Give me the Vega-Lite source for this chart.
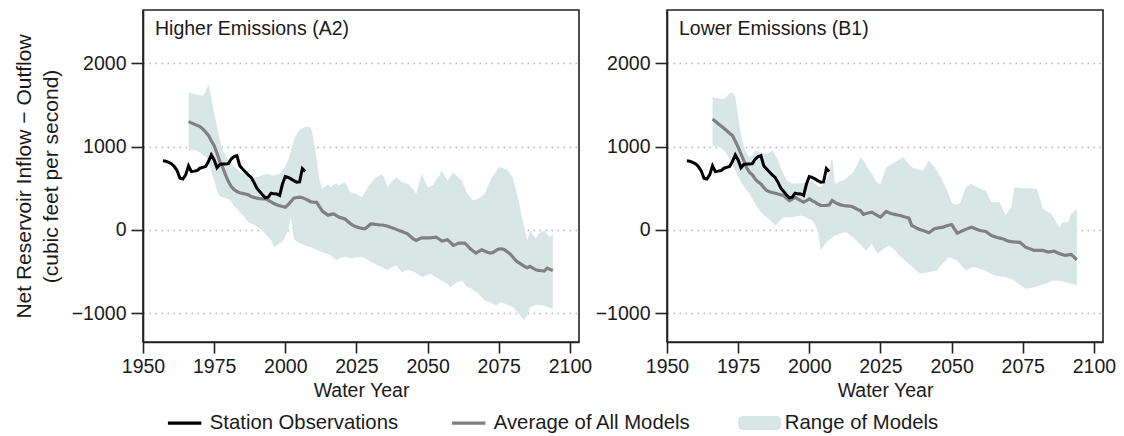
{
"$schema": "https://vega.github.io/schema/vega-lite/v6.json",
"padding": {"left": 12, "top": 9, "right": 0, "bottom": 0},
"datasets": {
"obs": [
{"year":1957,"flow":830},{"year":1958,"flow":825},{"year":1959,"flow":810},{"year":1960,"flow":795},{"year":1961,"flow":760},{"year":1962,"flow":710},{"year":1963,"flow":620},{"year":1964,"flow":610},{"year":1965,"flow":660},{"year":1966,"flow":770},{"year":1967,"flow":700},{"year":1968,"flow":705},{"year":1969,"flow":712},{"year":1970,"flow":740},{"year":1971,"flow":750},{"year":1972,"flow":760},{"year":1973,"flow":820},{"year":1974,"flow":900},{"year":1975,"flow":840},{"year":1976,"flow":745},{"year":1977,"flow":785},{"year":1978,"flow":790},{"year":1979,"flow":790},{"year":1980,"flow":795},{"year":1981,"flow":850},{"year":1982,"flow":880},{"year":1983,"flow":890},{"year":1984,"flow":770},{"year":1985,"flow":730},{"year":1986,"flow":695},{"year":1987,"flow":660},{"year":1988,"flow":630},{"year":1989,"flow":570},{"year":1990,"flow":500},{"year":1991,"flow":460},{"year":1992,"flow":420},{"year":1993,"flow":385},{"year":1994,"flow":392},{"year":1995,"flow":440},{"year":1996,"flow":432},{"year":1997,"flow":430},{"year":1998,"flow":412},{"year":1999,"flow":550},{"year":2000,"flow":640},{"year":2001,"flow":630},{"year":2002,"flow":612},{"year":2003,"flow":590},{"year":2004,"flow":572},{"year":2005,"flow":575},{"year":2006,"flow":735},{"year":2007,"flow":700}
],
"models": [
{"s":"A2","year":1966,"avg":1300,"lo":950,"hi":1652},{"s":"A2","year":1967,"avg":1285,"lo":955,"hi":1640},{"s":"A2","year":1968,"avg":1270,"lo":960,"hi":1632},{"s":"A2","year":1969,"avg":1255,"lo":945,"hi":1625},{"s":"A2","year":1970,"avg":1240,"lo":930,"hi":1615},{"s":"A2","year":1971,"avg":1212,"lo":900,"hi":1612},{"s":"A2","year":1972,"avg":1175,"lo":880,"hi":1650},{"s":"A2","year":1973,"avg":1135,"lo":832,"hi":1752},{"s":"A2","year":1974,"avg":1070,"lo":700,"hi":1592},{"s":"A2","year":1975,"avg":1010,"lo":600,"hi":1400},{"s":"A2","year":1976,"avg":920,"lo":470,"hi":1250},{"s":"A2","year":1977,"avg":820,"lo":400,"hi":1080},{"s":"A2","year":1978,"avg":750,"lo":390,"hi":960},{"s":"A2","year":1979,"avg":660,"lo":380,"hi":890},{"s":"A2","year":1980,"avg":580,"lo":370,"hi":832},{"s":"A2","year":1981,"avg":520,"lo":340,"hi":790},{"s":"A2","year":1982,"avg":485,"lo":290,"hi":760},{"s":"A2","year":1983,"avg":460,"lo":250,"hi":730},{"s":"A2","year":1984,"avg":445,"lo":210,"hi":700},{"s":"A2","year":1985,"avg":438,"lo":180,"hi":680},{"s":"A2","year":1986,"avg":430,"lo":130,"hi":660},{"s":"A2","year":1987,"avg":420,"lo":90,"hi":652},{"s":"A2","year":1988,"avg":400,"lo":75,"hi":640},{"s":"A2","year":1989,"avg":390,"lo":60,"hi":635},{"s":"A2","year":1990,"avg":380,"lo":40,"hi":632},{"s":"A2","year":1991,"avg":375,"lo":20,"hi":645},{"s":"A2","year":1992,"avg":372,"lo":-10,"hi":660},{"s":"A2","year":1993,"avg":372,"lo":-50,"hi":668},{"s":"A2","year":1994,"avg":355,"lo":-90,"hi":672},{"s":"A2","year":1995,"avg":335,"lo":-120,"hi":660},{"s":"A2","year":1996,"avg":315,"lo":-208,"hi":650},{"s":"A2","year":1997,"avg":300,"lo":-190,"hi":665},{"s":"A2","year":1998,"avg":290,"lo":-160,"hi":672},{"s":"A2","year":1999,"avg":280,"lo":-148,"hi":700},{"s":"A2","year":2000,"avg":272,"lo":-80,"hi":760},{"s":"A2","year":2001,"avg":300,"lo":-8,"hi":832},{"s":"A2","year":2002,"avg":340,"lo":152,"hi":950},{"s":"A2","year":2003,"avg":380,"lo":-108,"hi":1072},{"s":"A2","year":2004,"avg":388,"lo":-140,"hi":1150},{"s":"A2","year":2005,"avg":392,"lo":-160,"hi":1200},{"s":"A2","year":2006,"avg":385,"lo":-175,"hi":1220},{"s":"A2","year":2007,"avg":372,"lo":-190,"hi":1240},{"s":"A2","year":2008,"avg":355,"lo":-200,"hi":1235},{"s":"A2","year":2009,"avg":335,"lo":-208,"hi":1232},{"s":"A2","year":2010,"avg":332,"lo":-225,"hi":1072},{"s":"A2","year":2011,"avg":330,"lo":-240,"hi":850},{"s":"A2","year":2012,"avg":280,"lo":-255,"hi":600},{"s":"A2","year":2013,"avg":225,"lo":-268,"hi":492},{"s":"A2","year":2014,"avg":200,"lo":-280,"hi":520},{"s":"A2","year":2015,"avg":175,"lo":-290,"hi":540},{"s":"A2","year":2016,"avg":185,"lo":-308,"hi":512},{"s":"A2","year":2017,"avg":192,"lo":-340,"hi":540},{"s":"A2","year":2018,"avg":170,"lo":-368,"hi":560},{"s":"A2","year":2019,"avg":150,"lo":-345,"hi":532},{"s":"A2","year":2020,"avg":140,"lo":-330,"hi":555},{"s":"A2","year":2021,"avg":130,"lo":-328,"hi":572},{"s":"A2","year":2022,"avg":100,"lo":-335,"hi":500},{"s":"A2","year":2023,"avg":70,"lo":-345,"hi":452},{"s":"A2","year":2024,"avg":50,"lo":-340,"hi":440},{"s":"A2","year":2025,"avg":35,"lo":-330,"hi":430},{"s":"A2","year":2026,"avg":25,"lo":-330,"hi":410},{"s":"A2","year":2027,"avg":18,"lo":-328,"hi":392},{"s":"A2","year":2028,"avg":12,"lo":-345,"hi":450},{"s":"A2","year":2029,"avg":40,"lo":-360,"hi":512},{"s":"A2","year":2030,"avg":70,"lo":-388,"hi":560},{"s":"A2","year":2031,"avg":68,"lo":-400,"hi":600},{"s":"A2","year":2032,"avg":64,"lo":-420,"hi":632},{"s":"A2","year":2033,"avg":60,"lo":-435,"hi":650},{"s":"A2","year":2034,"avg":58,"lo":-448,"hi":672},{"s":"A2","year":2035,"avg":52,"lo":-470,"hi":600},{"s":"A2","year":2036,"avg":42,"lo":-488,"hi":512},{"s":"A2","year":2037,"avg":30,"lo":-460,"hi":560},{"s":"A2","year":2038,"avg":20,"lo":-440,"hi":600},{"s":"A2","year":2039,"avg":5,"lo":-428,"hi":632},{"s":"A2","year":2040,"avg":-8,"lo":-470,"hi":600},{"s":"A2","year":2041,"avg":-20,"lo":-508,"hi":572},{"s":"A2","year":2042,"avg":-35,"lo":-495,"hi":560},{"s":"A2","year":2043,"avg":-48,"lo":-480,"hi":552},{"s":"A2","year":2044,"avg":-80,"lo":-490,"hi":520},{"s":"A2","year":2045,"avg":-110,"lo":-500,"hi":480},{"s":"A2","year":2046,"avg":-128,"lo":-520,"hi":432},{"s":"A2","year":2047,"avg":-110,"lo":-540,"hi":560},{"s":"A2","year":2048,"avg":-96,"lo":-568,"hi":672},{"s":"A2","year":2049,"avg":-96,"lo":-555,"hi":590},{"s":"A2","year":2050,"avg":-96,"lo":-540,"hi":512},{"s":"A2","year":2051,"avg":-96,"lo":-528,"hi":520},{"s":"A2","year":2052,"avg":-92,"lo":-550,"hi":540},{"s":"A2","year":2053,"avg":-88,"lo":-570,"hi":600},{"s":"A2","year":2054,"avg":-110,"lo":-590,"hi":640},{"s":"A2","year":2055,"avg":-136,"lo":-608,"hi":712},{"s":"A2","year":2056,"avg":-128,"lo":-630,"hi":650},{"s":"A2","year":2057,"avg":-120,"lo":-650,"hi":592},{"s":"A2","year":2058,"avg":-150,"lo":-688,"hi":640},{"s":"A2","year":2059,"avg":-188,"lo":-660,"hi":692},{"s":"A2","year":2060,"avg":-175,"lo":-640,"hi":660},{"s":"A2","year":2061,"avg":-160,"lo":-625,"hi":620},{"s":"A2","year":2062,"avg":-160,"lo":-608,"hi":592},{"s":"A2","year":2063,"avg":-160,"lo":-650,"hi":510},{"s":"A2","year":2064,"avg":-190,"lo":-688,"hi":432},{"s":"A2","year":2065,"avg":-228,"lo":-700,"hi":390},{"s":"A2","year":2066,"avg":-255,"lo":-720,"hi":352},{"s":"A2","year":2067,"avg":-280,"lo":-745,"hi":365},{"s":"A2","year":2068,"avg":-260,"lo":-768,"hi":380},{"s":"A2","year":2069,"avg":-240,"lo":-810,"hi":405},{"s":"A2","year":2070,"avg":-255,"lo":-848,"hi":432},{"s":"A2","year":2071,"avg":-270,"lo":-860,"hi":510},{"s":"A2","year":2072,"avg":-280,"lo":-870,"hi":592},{"s":"A2","year":2073,"avg":-272,"lo":-890,"hi":650},{"s":"A2","year":2074,"avg":-250,"lo":-908,"hi":700},{"s":"A2","year":2075,"avg":-230,"lo":-888,"hi":752},{"s":"A2","year":2076,"avg":-228,"lo":-868,"hi":752},{"s":"A2","year":2077,"avg":-240,"lo":-885,"hi":735},{"s":"A2","year":2078,"avg":-265,"lo":-900,"hi":720},{"s":"A2","year":2079,"avg":-290,"lo":-915,"hi":670},{"s":"A2","year":2080,"avg":-330,"lo":-928,"hi":620},{"s":"A2","year":2081,"avg":-370,"lo":-968,"hi":480},{"s":"A2","year":2082,"avg":-395,"lo":-1008,"hi":352},{"s":"A2","year":2083,"avg":-416,"lo":-1050,"hi":180},{"s":"A2","year":2084,"avg":-440,"lo":-1088,"hi":32},{"s":"A2","year":2085,"avg":-456,"lo":-1028,"hi":-128},{"s":"A2","year":2086,"avg":-440,"lo":-928,"hi":-8},{"s":"A2","year":2087,"avg":-460,"lo":-915,"hi":-60},{"s":"A2","year":2088,"avg":-480,"lo":-900,"hi":-108},{"s":"A2","year":2089,"avg":-488,"lo":-902,"hi":-48},{"s":"A2","year":2090,"avg":-492,"lo":-905,"hi":-25},{"s":"A2","year":2091,"avg":-496,"lo":-908,"hi":-8},{"s":"A2","year":2092,"avg":-460,"lo":-920,"hi":-50},{"s":"A2","year":2093,"avg":-475,"lo":-935,"hi":-88},{"s":"A2","year":2094,"avg":-490,"lo":-948,"hi":-48},
{"s":"B1","year":1966,"avg":1332,"lo":1012,"hi":1592},{"s":"B1","year":1967,"avg":1305,"lo":1005,"hi":1585},{"s":"B1","year":1968,"avg":1275,"lo":1000,"hi":1580},{"s":"B1","year":1969,"avg":1248,"lo":980,"hi":1575},{"s":"B1","year":1970,"avg":1220,"lo":960,"hi":1572},{"s":"B1","year":1971,"avg":1190,"lo":905,"hi":1600},{"s":"B1","year":1972,"avg":1160,"lo":850,"hi":1640},{"s":"B1","year":1973,"avg":1132,"lo":780,"hi":1652},{"s":"B1","year":1974,"avg":1065,"lo":712,"hi":1600},{"s":"B1","year":1975,"avg":992,"lo":640,"hi":1352},{"s":"B1","year":1976,"avg":910,"lo":580,"hi":1150},{"s":"B1","year":1977,"avg":832,"lo":520,"hi":992},{"s":"B1","year":1978,"avg":745,"lo":475,"hi":920},{"s":"B1","year":1979,"avg":690,"lo":432,"hi":872},{"s":"B1","year":1980,"avg":660,"lo":370,"hi":900},{"s":"B1","year":1981,"avg":610,"lo":312,"hi":952},{"s":"B1","year":1982,"avg":575,"lo":260,"hi":940},{"s":"B1","year":1983,"avg":552,"lo":210,"hi":930},{"s":"B1","year":1984,"avg":510,"lo":180,"hi":920},{"s":"B1","year":1985,"avg":472,"lo":152,"hi":912},{"s":"B1","year":1986,"avg":458,"lo":120,"hi":930},{"s":"B1","year":1987,"avg":448,"lo":90,"hi":952},{"s":"B1","year":1988,"avg":440,"lo":52,"hi":900},{"s":"B1","year":1989,"avg":430,"lo":85,"hi":840},{"s":"B1","year":1990,"avg":420,"lo":120,"hi":750},{"s":"B1","year":1991,"avg":412,"lo":152,"hi":670},{"s":"B1","year":1992,"avg":380,"lo":152,"hi":592},{"s":"B1","year":1993,"avg":352,"lo":150,"hi":570},{"s":"B1","year":1994,"avg":370,"lo":152,"hi":552},{"s":"B1","year":1995,"avg":392,"lo":160,"hi":555},{"s":"B1","year":1996,"avg":370,"lo":165,"hi":556},{"s":"B1","year":1997,"avg":350,"lo":172,"hi":558},{"s":"B1","year":1998,"avg":332,"lo":160,"hi":560},{"s":"B1","year":1999,"avg":350,"lo":145,"hi":575},{"s":"B1","year":2000,"avg":372,"lo":130,"hi":585},{"s":"B1","year":2001,"avg":350,"lo":112,"hi":592},{"s":"B1","year":2002,"avg":332,"lo":60,"hi":560},{"s":"B1","year":2003,"avg":310,"lo":-8,"hi":520},{"s":"B1","year":2004,"avg":292,"lo":-248,"hi":512},{"s":"B1","year":2005,"avg":292,"lo":-200,"hi":550},{"s":"B1","year":2006,"avg":292,"lo":-148,"hi":592},{"s":"B1","year":2007,"avg":300,"lo":-120,"hi":700},{"s":"B1","year":2008,"avg":352,"lo":-95,"hi":872},{"s":"B1","year":2009,"avg":330,"lo":-68,"hi":552},{"s":"B1","year":2010,"avg":312,"lo":-55,"hi":570},{"s":"B1","year":2011,"avg":300,"lo":-45,"hi":590},{"s":"B1","year":2012,"avg":292,"lo":-35,"hi":592},{"s":"B1","year":2013,"avg":288,"lo":-28,"hi":620},{"s":"B1","year":2014,"avg":284,"lo":-55,"hi":650},{"s":"B1","year":2015,"avg":280,"lo":-80,"hi":672},{"s":"B1","year":2016,"avg":262,"lo":-108,"hi":730},{"s":"B1","year":2017,"avg":245,"lo":-145,"hi":792},{"s":"B1","year":2018,"avg":232,"lo":-180,"hi":872},{"s":"B1","year":2019,"avg":184,"lo":-215,"hi":830},{"s":"B1","year":2020,"avg":195,"lo":-248,"hi":780},{"s":"B1","year":2021,"avg":205,"lo":-210,"hi":720},{"s":"B1","year":2022,"avg":212,"lo":-168,"hi":672},{"s":"B1","year":2023,"avg":190,"lo":-230,"hi":610},{"s":"B1","year":2024,"avg":170,"lo":-288,"hi":560},{"s":"B1","year":2025,"avg":152,"lo":-260,"hi":552},{"s":"B1","year":2026,"avg":185,"lo":-230,"hi":650},{"s":"B1","year":2027,"avg":220,"lo":-210,"hi":752},{"s":"B1","year":2028,"avg":205,"lo":-188,"hi":770},{"s":"B1","year":2029,"avg":192,"lo":-215,"hi":792},{"s":"B1","year":2030,"avg":185,"lo":-240,"hi":812},{"s":"B1","year":2031,"avg":178,"lo":-288,"hi":832},{"s":"B1","year":2032,"avg":172,"lo":-320,"hi":850},{"s":"B1","year":2033,"avg":160,"lo":-350,"hi":872},{"s":"B1","year":2034,"avg":150,"lo":-380,"hi":830},{"s":"B1","year":2035,"avg":140,"lo":-408,"hi":790},{"s":"B1","year":2036,"avg":52,"lo":-440,"hi":752},{"s":"B1","year":2037,"avg":35,"lo":-470,"hi":740},{"s":"B1","year":2038,"avg":15,"lo":-500,"hi":725},{"s":"B1","year":2039,"avg":0,"lo":-528,"hi":718},{"s":"B1","year":2040,"avg":-8,"lo":-520,"hi":712},{"s":"B1","year":2041,"avg":-22,"lo":-515,"hi":770},{"s":"B1","year":2042,"avg":-36,"lo":-508,"hi":832},{"s":"B1","year":2043,"avg":-12,"lo":-500,"hi":790},{"s":"B1","year":2044,"avg":12,"lo":-492,"hi":752},{"s":"B1","year":2045,"avg":20,"lo":-488,"hi":700},{"s":"B1","year":2046,"avg":26,"lo":-440,"hi":640},{"s":"B1","year":2047,"avg":32,"lo":-400,"hi":575},{"s":"B1","year":2048,"avg":45,"lo":-365,"hi":512},{"s":"B1","year":2049,"avg":55,"lo":-328,"hi":420},{"s":"B1","year":2050,"avg":64,"lo":-340,"hi":330},{"s":"B1","year":2051,"avg":10,"lo":-355,"hi":300},{"s":"B1","year":2052,"avg":-40,"lo":-368,"hi":310},{"s":"B1","year":2053,"avg":-25,"lo":-410,"hi":320},{"s":"B1","year":2054,"avg":-8,"lo":-450,"hi":420},{"s":"B1","year":2055,"avg":5,"lo":-488,"hi":512},{"s":"B1","year":2056,"avg":20,"lo":-470,"hi":532},{"s":"B1","year":2057,"avg":32,"lo":-455,"hi":552},{"s":"B1","year":2058,"avg":18,"lo":-448,"hi":530},{"s":"B1","year":2059,"avg":5,"lo":-460,"hi":510},{"s":"B1","year":2060,"avg":-8,"lo":-470,"hi":492},{"s":"B1","year":2061,"avg":-14,"lo":-480,"hi":482},{"s":"B1","year":2062,"avg":-20,"lo":-488,"hi":472},{"s":"B1","year":2063,"avg":-45,"lo":-515,"hi":400},{"s":"B1","year":2064,"avg":-68,"lo":-530,"hi":332},{"s":"B1","year":2065,"avg":-80,"lo":-548,"hi":332},{"s":"B1","year":2066,"avg":-92,"lo":-555,"hi":332},{"s":"B1","year":2067,"avg":-100,"lo":-560,"hi":332},{"s":"B1","year":2068,"avg":-108,"lo":-565,"hi":250},{"s":"B1","year":2069,"avg":-122,"lo":-568,"hi":172},{"s":"B1","year":2070,"avg":-136,"lo":-580,"hi":230},{"s":"B1","year":2071,"avg":-142,"lo":-595,"hi":272},{"s":"B1","year":2072,"avg":-146,"lo":-608,"hi":512},{"s":"B1","year":2073,"avg":-148,"lo":-635,"hi":505},{"s":"B1","year":2074,"avg":-150,"lo":-660,"hi":500},{"s":"B1","year":2075,"avg":-180,"lo":-685,"hi":500},{"s":"B1","year":2076,"avg":-208,"lo":-708,"hi":500},{"s":"B1","year":2077,"avg":-222,"lo":-702,"hi":500},{"s":"B1","year":2078,"avg":-235,"lo":-696,"hi":500},{"s":"B1","year":2079,"avg":-248,"lo":-690,"hi":495},{"s":"B1","year":2080,"avg":-248,"lo":-680,"hi":490},{"s":"B1","year":2081,"avg":-248,"lo":-670,"hi":380},{"s":"B1","year":2082,"avg":-248,"lo":-660,"hi":260},{"s":"B1","year":2083,"avg":-258,"lo":-648,"hi":230},{"s":"B1","year":2084,"avg":-268,"lo":-635,"hi":210},{"s":"B1","year":2085,"avg":-262,"lo":-620,"hi":192},{"s":"B1","year":2086,"avg":-256,"lo":-608,"hi":140},{"s":"B1","year":2087,"avg":-272,"lo":-612,"hi":80},{"s":"B1","year":2088,"avg":-288,"lo":-616,"hi":32},{"s":"B1","year":2089,"avg":-298,"lo":-620,"hi":92},{"s":"B1","year":2090,"avg":-308,"lo":-628,"hi":92},{"s":"B1","year":2091,"avg":-302,"lo":-638,"hi":92},{"s":"B1","year":2092,"avg":-296,"lo":-648,"hi":192},{"s":"B1","year":2093,"avg":-325,"lo":-658,"hi":220},{"s":"B1","year":2094,"avg":-360,"lo":-668,"hi":252}
]
},
"config": {
  "font": "Liberation Sans",
  "view": {"stroke": "#222222", "strokeWidth": 1.6},
  "title": {"anchor": "start", "frame": "group", "offset": -29, "dx": 12, "fontSize": 19.5, "fontWeight": "normal", "color": "#1a1a1a", "font": "Liberation Sans", "baseline": "alphabetic"},
  "legend": {"orient": "none", "legendX": 31.5, "legendY": 402.6, "direction": "horizontal", "title": null, "symbolSize": 1122, "symbolStrokeWidth": 3.3, "symbolOpacity": 1, "labelFontSize": 20.3, "labelFont": "Liberation Sans", "labelColor": "#1a1a1a", "labelOffset": 15, "columnPadding": 46, "padding": 0, "labelLimit": 400}
},
"resolve": {"scale": {"color": "shared"}, "legend": {"color": "shared"}},
"spacing": 1,
"hconcat": [
 {
  "width": 436, "height": 332,
  "title": {"text": "Higher Emissions (A2)"},
  "layer": [
   {"data": {"name": "models"}, "transform": [{"filter": "datum.s === 'A2'"}],
    "mark": {"type": "area", "opacity": 1},
    "encoding": {
      "x": {"field": "year", "type": "quantitative", "title": "Water Year", "scale": {"domain": [1950, 2103.2], "nice": false, "zero": false},
        "axis": {"values": [1950, 1975, 2000, 2025, 2050, 2075, 2100], "format": "d", "grid": false, "tickSize": 11, "tickWidth": 1.6, "tickColor": "#222222", "domainColor": "#222222", "domainWidth": 1.6, "labelPadding": 4, "labelFlush": false, "labelOverlap": false, "labelFontSize": 19.5, "labelFont": "Liberation Sans", "labelColor": "#1a1a1a", "titleFontSize": 19.5, "titleFont": "Liberation Sans", "titleFontWeight": "normal", "titleColor": "#1a1a1a", "titlePadding": 6}},
      "y": {"field": "lo", "type": "quantitative", "title": ["Net Reservoir Inflow − Outflow", "(cubic feet per second)"], "scale": {"domain": [-1348, 2641], "nice": false, "zero": false},
        "axis": {"values": [-1000, 0, 1000, 2000], "format": "d", "grid": true, "gridColor": "#b4b4b4", "gridDash": [1.5, 4.5], "gridWidth": 1.3, "tickSize": 12, "tickWidth": 1.6, "tickColor": "#222222", "domainColor": "#222222", "domainWidth": 1.6, "labelPadding": 5, "labelFontSize": 19.5, "labelFont": "Liberation Sans", "labelColor": "#1a1a1a", "titleFontSize": 21, "titleFont": "Liberation Sans", "titleFontWeight": "normal", "titleColor": "#1a1a1a", "titlePadding": 10, "titleLineHeight": 27}},
      "y2": {"field": "hi"},
      "color": {"datum": "Range of Models", "type": "nominal", "scale": {"domain": ["Station Observations", "Average of All Models", "Range of Models"], "range": ["#000000", "#808080", "#d8e7e6"]},
        "legend": {"encode": {"symbols": {"update": {
          "shape": {"signal": "datum.value === 'Range of Models' ? 'M-0.98,-0.42L0.98,-0.42Q1.28,-0.42 1.28,-0.12L1.28,0.12Q1.28,0.42 0.98,0.42L-0.98,0.42Q-1.28,0.42 -1.28,0.12L-1.28,-0.12Q-1.28,-0.42 -0.98,-0.42Z' : 'stroke'"},
          "fill": {"signal": "datum.value === 'Range of Models' ? '#d8e7e6' : 'transparent'"},
          "stroke": {"signal": "datum.value === 'Station Observations' ? '#000000' : (datum.value === 'Average of All Models' ? '#808080' : 'transparent')"},
          "strokeWidth": {"signal": "datum.value === 'Range of Models' ? 0 : 3.3"},
          "opacity": {"value": 1}}}}}}
    }},
   {"data": {"name": "models"}, "transform": [{"filter": "datum.s === 'A2'"}],
    "mark": {"type": "line", "strokeWidth": 3.2},
    "encoding": {
      "x": {"field": "year", "type": "quantitative", "title": "Water Year"},
      "y": {"field": "avg", "type": "quantitative", "title": ["Net Reservoir Inflow − Outflow", "(cubic feet per second)"]},
      "color": {"datum": "Average of All Models", "type": "nominal"}
    }},
   {"data": {"name": "obs"},
    "mark": {"type": "line", "strokeWidth": 3},
    "encoding": {
      "x": {"field": "year", "type": "quantitative", "title": "Water Year"},
      "y": {"field": "flow", "type": "quantitative", "title": ["Net Reservoir Inflow − Outflow", "(cubic feet per second)"]},
      "color": {"datum": "Station Observations", "type": "nominal"}
    }}
  ]
 },
 {
  "width": 436, "height": 332,
  "title": {"text": "Lower Emissions (B1)"},
  "layer": [
   {"data": {"name": "models"}, "transform": [{"filter": "datum.s === 'B1'"}],
    "mark": {"type": "area", "opacity": 1},
    "encoding": {
      "x": {"field": "year", "type": "quantitative", "title": "Water Year", "scale": {"domain": [1950, 2103.2], "nice": false, "zero": false},
        "axis": {"values": [1950, 1975, 2000, 2025, 2050, 2075, 2100], "format": "d", "grid": false, "tickSize": 11, "tickWidth": 1.6, "tickColor": "#222222", "domainColor": "#222222", "domainWidth": 1.6, "labelPadding": 4, "labelFlush": false, "labelOverlap": false, "labelFontSize": 19.5, "labelFont": "Liberation Sans", "labelColor": "#1a1a1a", "titleFontSize": 19.5, "titleFont": "Liberation Sans", "titleFontWeight": "normal", "titleColor": "#1a1a1a", "titlePadding": 6}},
      "y": {"field": "lo", "type": "quantitative", "title": null, "scale": {"domain": [-1348, 2641], "nice": false, "zero": false},
        "axis": {"values": [-1000, 0, 1000, 2000], "format": "d", "grid": true, "gridColor": "#b4b4b4", "gridDash": [1.5, 4.5], "gridWidth": 1.3, "tickSize": 12, "tickWidth": 1.6, "tickColor": "#222222", "domainColor": "#222222", "domainWidth": 1.6, "labelPadding": 5, "labelFontSize": 19.5, "labelFont": "Liberation Sans", "labelColor": "#1a1a1a"}},
      "y2": {"field": "hi"},
      "color": {"datum": "Range of Models", "type": "nominal"}
    }},
   {"data": {"name": "models"}, "transform": [{"filter": "datum.s === 'B1'"}],
    "mark": {"type": "line", "strokeWidth": 3.2},
    "encoding": {
      "x": {"field": "year", "type": "quantitative", "title": "Water Year"},
      "y": {"field": "avg", "type": "quantitative", "title": null},
      "color": {"datum": "Average of All Models", "type": "nominal"}
    }},
   {"data": {"name": "obs"},
    "mark": {"type": "line", "strokeWidth": 3},
    "encoding": {
      "x": {"field": "year", "type": "quantitative", "title": "Water Year"},
      "y": {"field": "flow", "type": "quantitative", "title": null},
      "color": {"datum": "Station Observations", "type": "nominal"}
    }}
  ]
 }
]
}
